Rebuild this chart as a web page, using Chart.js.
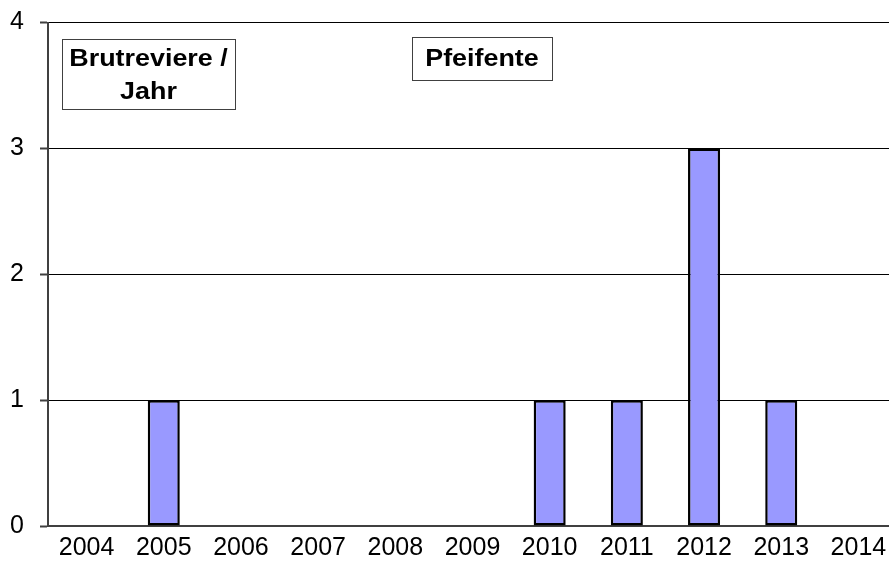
<!DOCTYPE html>
<html lang="de">
<head>
    <meta charset="UTF-8">
    <title>Pfeifente</title>
    <script src="https://cdn.jsdelivr.net/npm/chart.js"></script>
    <style>
        html, body {
            margin: 0;
            padding: 0;
            background: #ffffff;
            overflow: hidden;
        }
        .chart-container {
            position: relative;
            width: 900px;
            height: 566px;
        }
    </style>
</head>
<body>
    <div class="chart-container">
        <canvas id="brutChart"></canvas>
    </div>
    <script>
        // Daten aus dem Diagramm
        const years = ['2004', '2005', '2006', '2007', '2008', '2009', '2010', '2011', '2012', '2013', '2014'];
        const reviere = [0, 1, 0, 0, 0, 0, 1, 1, 3, 1, 0];
        const yTicks = [0, 1, 2, 3, 4];
        const titleLines = ['Brutreviere /', 'Jahr'];
        const speciesName = 'Pfeifente';

        // Beschriftungskästen oben im Diagramm
        const labelBoxes = {
            id: 'labelBoxes',
            afterDraw(chart) {
                const ctx = chart.ctx;
                function box(x, y, w, h, lines, cx, cy, step) {
                    ctx.save();
                    ctx.fillStyle = '#ffffff';
                    ctx.fillRect(x, y, w, h);
                    ctx.strokeStyle = '#404040';
                    ctx.lineWidth = 1;
                    ctx.strokeRect(x + 0.5, y + 0.5, w, h);
                    ctx.fillStyle = '#000000';
                    ctx.font = 'bold 24px "Liberation Sans", Arial, sans-serif';
                    ctx.textAlign = 'center';
                    ctx.textBaseline = 'middle';
                    lines.forEach((t, i) => {
                        ctx.save();
                        ctx.translate(cx, cy + i * step);
                        ctx.scale(1.12, 1);
                        ctx.fillText(t, 0, 0);
                        ctx.restore();
                    });
                    ctx.restore();
                }
                box(62, 39, 173, 70, titleLines, 148.5, 59, 33);
                box(412, 37, 140, 43, [speciesName], 482, 59, 0);
            }
        };

        const ctx = document.getElementById('brutChart').getContext('2d');
        new Chart(ctx, {
            type: 'bar',
            data: {
                labels: years,
                datasets: [{
                    data: reviere,
                    backgroundColor: '#9999ff',
                    borderColor: '#000000',
                    borderWidth: 2.5,
                    borderSkipped: false,
                    barPercentage: 0.415,
                    categoryPercentage: 1
                }]
            },
            options: {
                responsive: true,
                maintainAspectRatio: false,
                animation: false,
                layout: {
                    padding: { top: 22.5, right: 3, bottom: 0, left: 0 }
                },
                plugins: {
                    legend: { display: false },
                    tooltip: { enabled: false }
                },
                scales: {
                    x: {
                        grid: { display: false, drawTicks: false },
                        border: { display: true, color: '#404040', width: 2 },
                        ticks: {
                            color: '#000000',
                            font: { family: '"Liberation Sans", Arial, sans-serif', size: 25 },
                            padding: 7,
                            maxRotation: 0,
                            autoSkip: false
                        },
                        afterFit(scale) { scale.height = 40; }
                    },
                    y: {
                        min: 0,
                        max: 4,
                        afterBuildTicks(scale) {
                            scale.ticks = yTicks.map(v => ({ value: v }));
                        },
                        grid: {
                            color: '#000000',
                            lineWidth: 1,
                            tickLength: 8,
                            tickColor: '#404040',
                            tickWidth: 2
                        },
                        border: { display: true, color: '#404040', width: 2 },
                        ticks: {
                            color: '#000000',
                            font: { family: '"Liberation Sans", Arial, sans-serif', size: 25 },
                            padding: 16
                        },
                        afterFit(scale) {
                            scale.width = 48;
                            scale.paddingTop = 0;
                            scale.paddingBottom = 0;
                        }
                    }
                }
            },
            plugins: [labelBoxes]
        });
    </script>
</body>
</html>
